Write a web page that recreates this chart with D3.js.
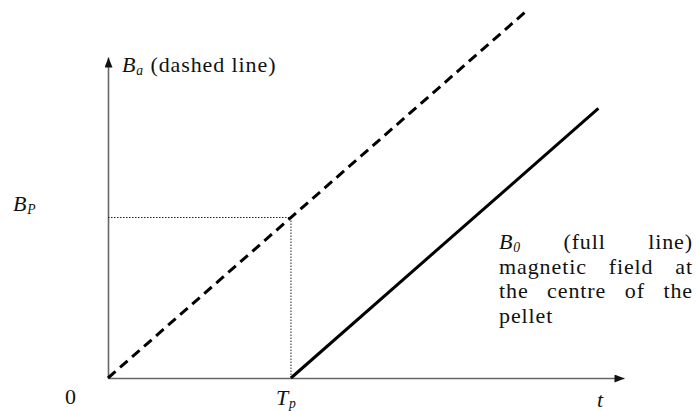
<!DOCTYPE html>
<html>
<head>
<meta charset="utf-8">
<script src="https://cdn.jsdelivr.net/npm/d3@7"></script>
<style>
  html, body { margin: 0; padding: 0; background: #fff; }
  svg { display: block; }
</style>
</head>
<body>
<svg id="chart" width="696" height="411"></svg>
<script>
// Time in units of Tp, field in units of Bp
const axisExtent = { t: 2.82, b: 2.0 };
const penetration = { t: [1], b: [1] };          // Tp, Bp
const appliedT = [0, 2.3];                         // Ba: dashed line
const appliedB = [0, 2.3];
const centreT = [1, 2.68];                         // B0: full line
const centreB = [0, 1.68];
const xTickLabels = ["0", "Tp"];
const captionLines = [
  ["B0", "(full", "line)"],
  ["magnetic", "field", "at"],
  ["the", "centre", "of", "the"],
  ["pellet"]
];

const FONT = "Liberation Serif";
const SIZE = 22;
const svg = d3.select("#chart");
const x = d3.scaleLinear().domain([0, axisExtent.t]).range([108, 624]);
const y = d3.scaleLinear().domain([0, axisExtent.b]).range([378, 57]);

// every label shares one serif face
function addText(g, px, py) {
  return g.append("text").attr("x", px).attr("y", py)
    .attr("font-family", FONT).attr("font-size", SIZE)
    .attr("letter-spacing", 0.9).attr("fill", "#111");
}

const defs = svg.append("defs");
defs.append("marker")
  .attr("id", "arrow")
  .attr("viewBox", "0 0 10 8")
  .attr("refX", 10).attr("refY", 4)
  .attr("markerUnits", "userSpaceOnUse")
  .attr("markerWidth", 11).attr("markerHeight", 8)
  .attr("orient", "auto")
  .append("path").attr("d", "M0,0L10,4L0,8Z").attr("fill", "#111");

// Axes: bare lines with arrowheads
const xAxis = svg.append("g").attr("transform", `translate(0,${y(0)})`)
  .call(d3.axisBottom(x).tickValues([]).tickSizeOuter(0));
const yAxis = svg.append("g").attr("transform", `translate(${x(0)},0)`)
  .call(d3.axisLeft(y).tickValues([]).tickSizeOuter(0));
[xAxis, yAxis].forEach(g => g.select(".domain")
  .attr("stroke", "#666").attr("stroke-width", 1.6)
  .attr("marker-end", "url(#arrow)"));

// Dotted guides to (Tp, Bp)
const guide = svg.append("g").attr("stroke", "#222").attr("stroke-width", 1)
  .attr("stroke-dasharray", "1.5,1.5").attr("fill", "none");
guide.append("line")
  .attr("x1", x(0)).attr("y1", y(penetration.b[0]))
  .attr("x2", x(penetration.t[0])).attr("y2", y(penetration.b[0]));
guide.append("line")
  .attr("x1", x(penetration.t[0])).attr("y1", y(penetration.b[0]))
  .attr("x2", x(penetration.t[0])).attr("y2", y(0));

const line = d3.line().x(d => x(d[0])).y(d => y(d[1]));
svg.append("path")
  .datum(d3.zip(appliedT, appliedB))
  .attr("d", line).attr("fill", "none").attr("stroke", "#000")
  .attr("stroke-width", 3).attr("stroke-dasharray", "10,6");
svg.append("path")
  .datum(d3.zip(centreT, centreB))
  .attr("d", line).attr("fill", "none").attr("stroke", "#000")
  .attr("stroke-width", 3);

// Italic symbol with a lowered subscript
function symbol(g, main, sub, px, py) {
  const t = addText(g, px, py);
  t.append("tspan").attr("font-style", "italic").text(main);
  if (sub) t.append("tspan").attr("font-style", "italic")
    .attr("font-size", SIZE * 0.62).attr("dy", SIZE * 0.12).text(sub);
  return t;
}

const labels = svg.append("g");
const ba = symbol(labels, "B", "a", 122, 72);
ba.append("tspan").attr("dy", -SIZE * 0.12).attr("font-size", SIZE).text(" (dashed line)");
symbol(labels, "B", "P", 13, 211);
addText(labels, 71, 404).attr("text-anchor", "middle").text(xTickLabels[0]);
symbol(labels, "T", "p", x(penetration.t[0]) - 15, 405);
addText(labels, 597, 407).attr("font-style", "italic").text("t");

// Justified caption for the centre-field curve
const cap = svg.append("g");
const capLeft = 499, capRight = 693, capTop = 249, capLead = 24.5;
captionLines.forEach((words, i) => {
  const yy = capTop + i * capLead;
  const nodes = words.map(w => {
    const t = addText(cap, 0, yy);
    if (w === "B0") {
      t.append("tspan").attr("font-style", "italic").text("B");
      t.append("tspan").attr("font-style", "italic")
        .attr("font-size", SIZE * 0.62).attr("dy", SIZE * 0.12).text("0");
    } else t.text(w);
    return t;
  });
  const widths = nodes.map(n => n.node().getComputedTextLength());
  const total = d3.sum(widths);
  const last = i === captionLines.length - 1;
  const gap = (!last && words.length > 1) ? (capRight - capLeft - total) / (words.length - 1) : SIZE * 0.25;
  let cx = capLeft;
  nodes.forEach((n, k) => { n.attr("x", cx); cx += widths[k] + gap; });
});
</script>
</body>
</html>
